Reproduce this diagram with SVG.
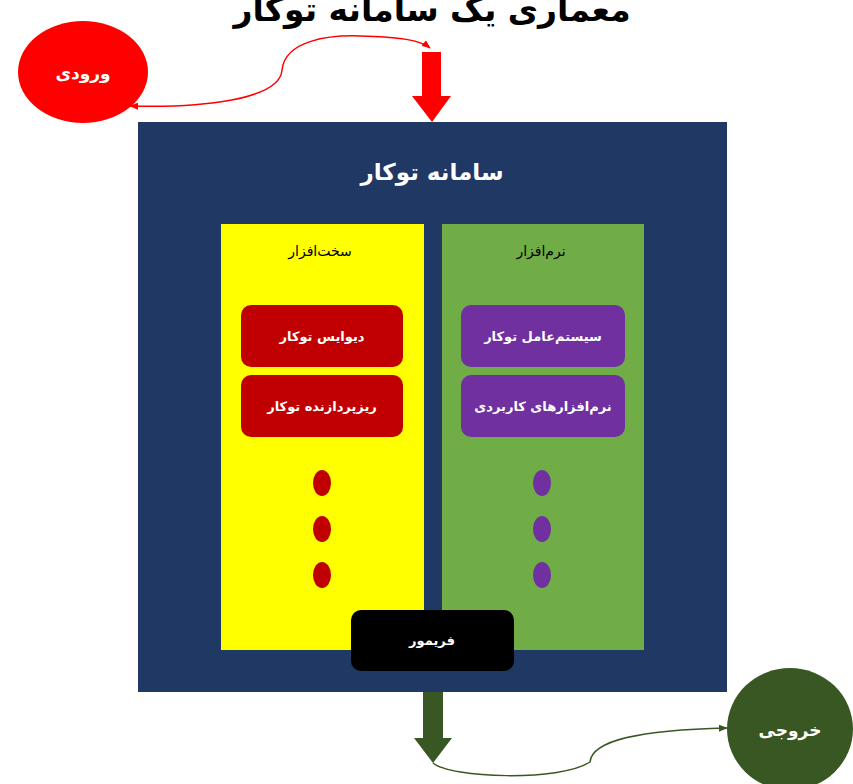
<svg xmlns="http://www.w3.org/2000/svg" width="853" height="784" viewBox="0 0 853 784">
<style>
text{font-family:"DejaVu Sans",sans-serif;text-anchor:middle;direction:rtl}
.w{fill:#fff}
.lbl{font-size:13px;font-weight:bold;fill:#fff}
.hd{font-size:14px;fill:#000}
</style>
<defs>
<marker id="ar" viewBox="0 0 10 10" refX="9" refY="5" markerWidth="6" markerHeight="6" orient="auto-start-reverse"><path d="M0,1 L10,5 L0,9 z" fill="#ff0000"/></marker>
<marker id="ag" viewBox="0 0 10 10" refX="9" refY="5" markerWidth="6" markerHeight="6" orient="auto"><path d="M0,1 L10,5 L0,9 z" fill="#385723"/></marker>
</defs>
<rect width="853" height="784" fill="#fff"/>
<text x="432" y="21" style="font-size:33px;font-weight:bold;fill:#000">معماری یک سامانه توکار</text>
<g id="system">
<rect x="138" y="122" width="589" height="570" fill="#203864"/>
<text x="432" y="180" class="w" style="font-size:23px;font-weight:bold">سامانه توکار</text>
</g>
<g id="hardware">
<rect x="221" y="224" width="203" height="426" fill="#ffff00"/>
<text x="320" y="256" class="hd">سخت‌افزار</text>
</g>
<g id="software">
<rect x="442" y="224" width="202" height="426" fill="#70ad47"/>
<text x="541" y="256" class="hd">نرم‌افزار</text>
</g>
<g id="device"><rect x="241" y="305" width="162" height="62" rx="10" fill="#c00000"/><text x="322" y="341" class="lbl">دیوایس توکار</text></g>
<g id="processor"><rect x="241" y="375" width="162" height="62" rx="10" fill="#c00000"/><text x="322" y="411" class="lbl">ریزپردازنده توکار</text></g>
<g id="os"><rect x="461" y="305" width="164" height="62" rx="10" fill="#7030a0"/><text x="543" y="341" class="lbl">سیستم‌عامل توکار</text></g>
<g id="apps"><rect x="461" y="375" width="164" height="62" rx="10" fill="#7030a0"/><text x="543" y="411" class="lbl">نرم‌افزارهای کاربردی</text></g>
<g id="hw-dots" fill="#c00000"><ellipse cx="322" cy="483" rx="9" ry="13"/><ellipse cx="322" cy="529" rx="9" ry="13"/><ellipse cx="322" cy="575" rx="9" ry="13"/></g>
<g id="sw-dots" fill="#7030a0"><ellipse cx="542" cy="483" rx="9" ry="13"/><ellipse cx="542" cy="529" rx="9" ry="13"/><ellipse cx="542" cy="575" rx="9" ry="13"/></g>
<g id="firmware"><rect x="351" y="610" width="163" height="61" rx="10" fill="#000"/><text x="432" y="645" class="lbl">فریمور</text></g>
<g id="input"><ellipse cx="83" cy="72" rx="65" ry="51" fill="#ff0000"/><text x="83" y="79" class="lbl" style="font-size:17px">ورودی</text></g>
<g id="output"><ellipse cx="790" cy="729" rx="63" ry="61" fill="#385723"/><text x="790" y="736" class="lbl" style="font-size:17px">خروجی</text></g>
<g id="connectors">
<path d="M422,52 H441 V96 H451 L432,122 L412,96 H422 Z" fill="#ff0000"/>
<path d="M423,692 H443 V738 H452 L433,763 L414,738 H423 Z" fill="#385723"/>
<path d="M130,106 C200,108 280,100 282,70 C285,40 330,35 360,36 C400,37 420,40 430,48" fill="none" stroke="#ff0000" stroke-width="1.5" marker-start="url(#ar)" marker-end="url(#ar)"/>
<path d="M433,763 C450,778 560,782 590,762 C592,740 640,730 727,728" fill="none" stroke="#385723" stroke-width="1.5" marker-end="url(#ag)"/>
</g>
</svg>
